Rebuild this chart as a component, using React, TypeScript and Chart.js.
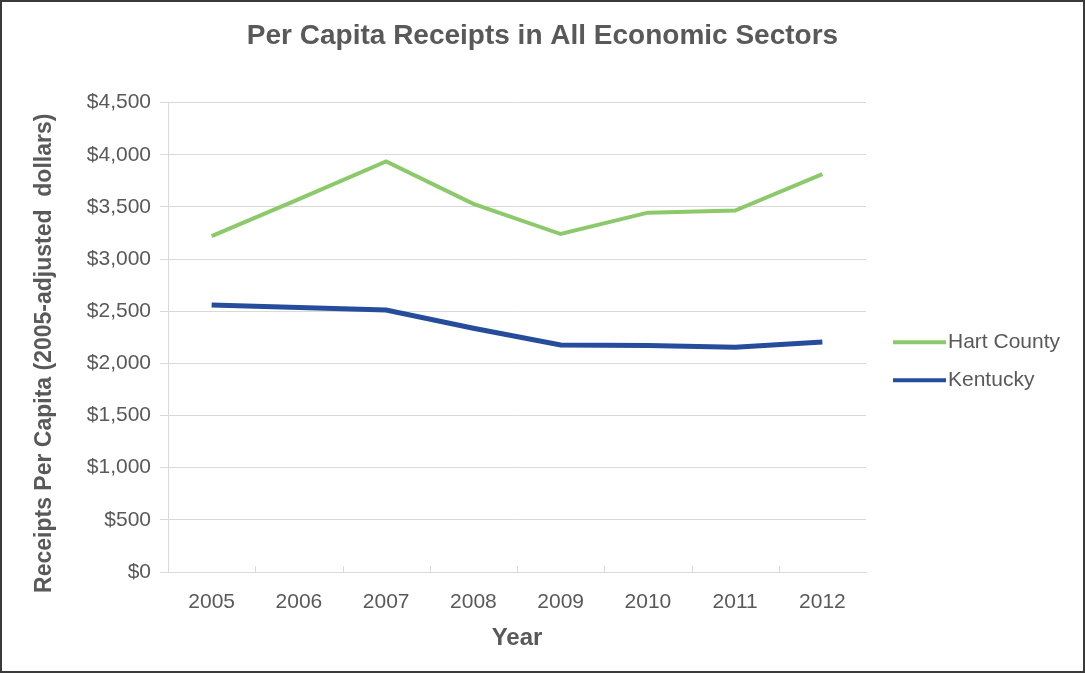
import React, { useEffect, useRef } from "react";
import { Chart, registerables } from "chart.js";

Chart.register(...registerables);

const years = ["2005", "2006", "2007", "2008", "2009", "2010", "2011", "2012"];
const hartCounty = [3220, 3575, 3935, 3530, 3240, 3445, 3465, 3815];
const kentucky = [2560, 2535, 2512, 2337, 2177, 2172, 2155, 2205];
const seriesNames = ["Hart County", "Kentucky"];
const seriesColors = ["#8cc96a", "#264d9b"];
const yMin = 0;
const yMax = 4500;
const yStep = 500;

const chartTitle = "Per Capita Receipts in All Economic Sectors";
const xTitle = "Year";
const yTitle = "Receipts Per Capita (2005-adjusted  dollars)     ";

const FONT = '"Liberation Sans", Arial, sans-serif';
const TEXT = "#595959";
const GRID = "#d9d9d9";

const sideLegend = {
  id: "sideLegend",
  afterDraw(chart: any) {
    const { ctx, chartArea } = chart;
    const x0 = chartArea.right + 27;
    const yc = (chartArea.top + chartArea.bottom) / 2 + 24;
    const n = chart.data.datasets.length;
    chart.data.datasets.forEach((ds: any, i: number) => {
      const y = yc + (i - (n - 1) / 2) * 38;
      ctx.save();
      ctx.strokeStyle = ds.borderColor;
      ctx.lineWidth = 4;
      ctx.beginPath();
      ctx.moveTo(x0, y);
      ctx.lineTo(x0 + 53, y);
      ctx.stroke();
      ctx.fillStyle = TEXT;
      ctx.font = `21px ${FONT}`;
      ctx.textBaseline = "middle";
      ctx.textAlign = "left";
      ctx.fillText(ds.label, x0 + 55, y);
      ctx.restore();
    });
  },
};

const innerTicks = {
  id: "innerTicks",
  afterDraw(chart: any) {
    const { ctx, chartArea } = chart;
    const xs = chart.scales.x;
    ctx.save();
    ctx.strokeStyle = GRID;
    ctx.lineWidth = 1;
    for (let i = 1; i < years.length; i++) {
      const x = Math.round((xs.getPixelForValue(i - 1) + xs.getPixelForValue(i)) / 2) + 0.5;
      ctx.beginPath();
      ctx.moveTo(x, chartArea.bottom);
      ctx.lineTo(x, chartArea.bottom - 6);
      ctx.stroke();
    }
    ctx.restore();
  },
};

export default function App() {
  const ref = useRef<HTMLCanvasElement>(null);

  useEffect(() => {
    document.body.style.margin = "0";
    Chart.defaults.font.family = FONT;
    const chart = new Chart(ref.current!, {
      type: "line",
      data: {
        labels: years,
        datasets: [
          {
            label: seriesNames[0],
            data: hartCounty,
            borderColor: seriesColors[0],
            backgroundColor: seriesColors[0],
            borderWidth: 4,
            pointRadius: 0,
            tension: 0,
          },
          {
            label: seriesNames[1],
            data: kentucky,
            borderColor: seriesColors[1],
            backgroundColor: seriesColors[1],
            borderWidth: 5,
            pointRadius: 0,
            tension: 0,
          },
        ],
      },
      options: {
        animation: false,
        responsive: false,
        maintainAspectRatio: false,
        layout: { padding: { left: 0, right: 0, top: 0, bottom: 0 } },
        plugins: {
          legend: { display: false },
          tooltip: { enabled: false },
          title: {
            display: true,
            text: chartTitle,
            color: TEXT,
            font: { size: 28, weight: "bold", family: FONT },
            padding: { top: 19, bottom: 50 },
          },
        },
        scales: {
          x: {
            type: "category",
            offset: true,
            afterFit: (s: any) => {
              s.height = 101;
            },
            grid: {
              offset: true,
              drawOnChartArea: true,
              drawTicks: false,
              color: (c: any) => (c.index === years.length ? GRID : "rgba(0,0,0,0)"),
            },
            border: { display: true, color: GRID },
            ticks: { color: TEXT, font: { size: 21, family: FONT }, padding: 18, maxRotation: 0 },
            title: {
              display: true,
              text: xTitle,
              color: TEXT,
              font: { size: 24, weight: "bold", family: FONT },
              padding: { top: 0, bottom: 20 },
            },
          },
          y: {
            min: yMin,
            max: yMax,
            afterFit: (s: any) => {
              s.width = 168;
            },
            grid: { color: GRID, drawTicks: true, tickLength: 8, tickColor: GRID },
            border: { display: true, color: GRID },
            ticks: {
              stepSize: yStep,
              color: TEXT,
              font: { size: 21, family: FONT },
              padding: 9,
              callback: (v: any) => "$" + Number(v).toLocaleString("en-US"),
            },
            title: {
              display: true,
              text: yTitle,
              color: TEXT,
              font: { size: 23, weight: "bold", family: FONT },
              padding: { top: 31, bottom: 0 },
            },
          },
          legendSpace: {
            type: "linear",
            position: "right",
            display: true,
            afterFit: (s: any) => {
              s.width = 219;
            },
            grid: { display: false, drawOnChartArea: false, drawTicks: false },
            border: { display: false },
            ticks: { display: false },
          },
        },
      },
      plugins: [sideLegend, innerTicks],
    });
    return () => chart.destroy();
  }, []);

  return (
    <div style={{ position: "relative", width: 1085, height: 673, background: "#fff" }}>
      <canvas ref={ref} width={1085} height={673} style={{ position: "absolute", left: 0, top: 0 }} />
      <div
        style={{
          position: "absolute",
          left: 0,
          top: 0,
          width: 1085,
          height: 673,
          boxSizing: "border-box",
          border: "2px solid #3a3a3a",
          pointerEvents: "none",
        }}
      />
    </div>
  );
}
